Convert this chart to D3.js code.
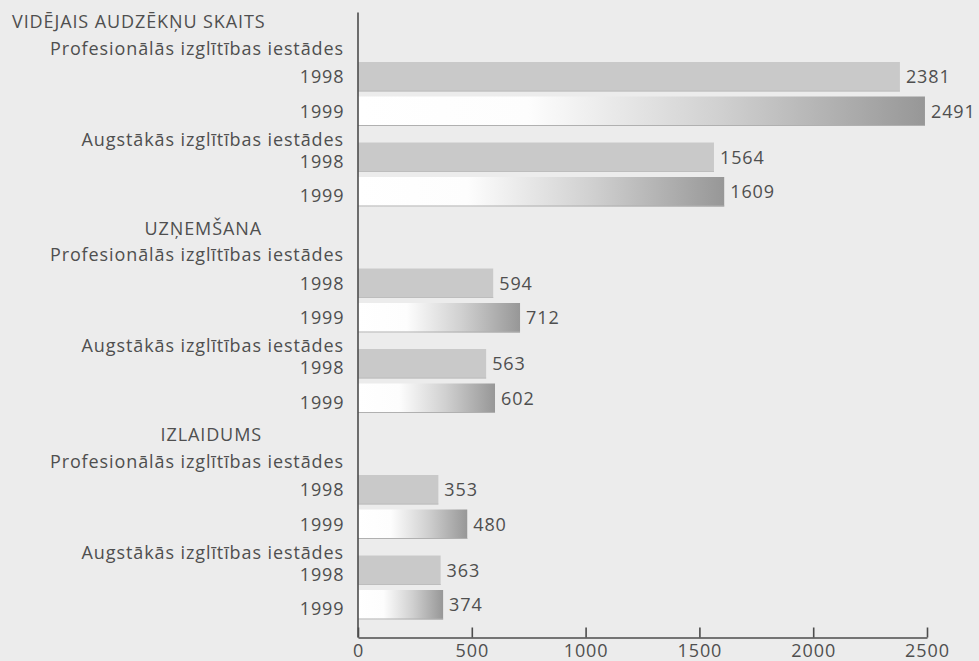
<!DOCTYPE html>
<html>
<head>
<meta charset="utf-8">
<script src="https://cdn.jsdelivr.net/npm/d3@7"></script>
<style>
  html, body { margin: 0; padding: 0; background: #ececec; }
  svg { display: block; }
  text { font-family: "Open Sans", "Noto Sans", sans-serif; fill: #4f4f4f; letter-spacing: 0.9px; }
</style>
</head>
<body>
<svg id="chart" width="979" height="661"></svg>
<script>
// ---- data ----
const sections = ["VIDĒJAIS AUDZĒKŅU SKAITS", "UZŅEMŠANA", "IZLAIDUMS"];
const institutions = ["Profesionālās izglītības iestādes", "Augstākās izglītības iestādes"];
const years = ["1998", "1999"];
const values1998 = [2381, 1564, 594, 563, 353, 363];
const values1999 = [2491, 1609, 712, 602, 480, 374];
const xTicks = [0, 500, 1000, 1500, 2000, 2500];

// ---- layout ----
const W = 979, H = 661;
const svg = d3.select("#chart");
const fontSize = 18;
const x = d3.scaleLinear().domain([0, 2500]).range([358, 927]);
const axisY = 637.5;
const sectionScale = d3.scaleLinear().domain([0, 1]).range([62, 268.5]);
const barH = 29.5;
const instStep = 80.5, yearStep = 34.5;

svg.append("rect").attr("width", W).attr("height", H).attr("fill", "#ececec");

const defs = svg.append("defs");
const grad = defs.append("linearGradient").attr("id", "g1999")
  .attr("x1", "0").attr("x2", "1").attr("y1", "0").attr("y2", "0");
[[0, "#ffffff"], [0.3, "#fdfdfd"], [0.64, "#d0d0d0"], [1, "#979797"]].forEach(([o, c]) =>
  grad.append("stop").attr("offset", o).attr("stop-color", c));

// build rows
const rows = [];
sections.forEach((sec, s) => {
  institutions.forEach((inst, i) => {
    years.forEach((yr, j) => {
      const idx = s * 2 + i;
      rows.push({
        s, i, j, year: yr,
        value: j === 0 ? values1998[idx] : values1999[idx],
        top: sectionScale(s) + i * instStep + j * yearStep
      });
    });
  });
});

// section headers and institution sub-headers
sections.forEach((sec, s) => {
  const top = sectionScale(s);
  svg.append("text")
    .attr("x", s === 0 ? 12 : 262)
    .attr("y", top - 34)
    .attr("text-anchor", s === 0 ? "start" : "end")
    .style("font-size", fontSize + "px")
    .text(sec);
  institutions.forEach((inst, i) => {
    svg.append("text")
      .attr("x", 344)
      .attr("y", i === 0 ? top - 7.5 : top + instStep + 3)
      .attr("text-anchor", "end")
      .style("font-size", fontSize + "px")
      .text(inst);
  });
});

// year labels
svg.selectAll("text.year").data(rows).join("text")
  .attr("class", "year")
  .attr("x", 344.5)
  .attr("y", d => d.top + barH / 2 + 6.5 + (d.i === 1 ? 4 : 0))
  .attr("text-anchor", "end")
  .style("font-size", fontSize + "px")
  .text(d => d.year);

// bars
svg.selectAll("rect.bar").data(rows).join("rect")
  .attr("class", "bar")
  .attr("x", x(0))
  .attr("y", d => d.top)
  .attr("width", d => x(d.value) - x(0))
  .attr("height", barH)
  .attr("fill", d => d.j === 0 ? "#c9c9c9" : "url(#g1999)");

// bottom edge shading of bars
svg.selectAll("line.edge").data(rows).join("line")
  .attr("class", "edge")
  .attr("x1", x(0)).attr("x2", d => x(d.value))
  .attr("y1", d => d.top + barH - 0.5).attr("y2", d => d.top + barH - 0.5)
  .attr("stroke", d => d.j === 0 ? "#bdbdbd" : "#b0b0b0")
  .attr("stroke-width", 1.2);

// value labels
svg.selectAll("text.val").data(rows).join("text")
  .attr("class", "val")
  .attr("x", d => x(d.value) + 6)
  .attr("y", d => d.top + barH / 2 + 6.5)
  .style("font-size", fontSize + "px")
  .text(d => d.value);

// x axis
const axis = d3.axisBottom(x).tickValues(xTicks).tickSizeInner(-10).tickSizeOuter(0).tickPadding(6)
  .tickFormat(d3.format("d"));
const gx = svg.append("g").attr("transform", `translate(0,${axisY})`).call(axis);
gx.select(".domain").attr("stroke", "#4d4d4d").attr("stroke-width", 1.6);
gx.selectAll(".tick line").attr("stroke", "#4d4d4d").attr("stroke-width", 1.6);
gx.selectAll(".tick text").style("font-size", fontSize + "px").attr("fill", "#555")
  .attr("dy", null).attr("y", 19)
  .style("font-family", "'Open Sans', 'Noto Sans', sans-serif");

// vertical axis line
svg.append("line")
  .attr("x1", x(0)).attr("x2", x(0))
  .attr("y1", 12.5).attr("y2", axisY)
  .attr("stroke", "#4d4d4d").attr("stroke-width", 1.6);
</script>
</body>
</html>
